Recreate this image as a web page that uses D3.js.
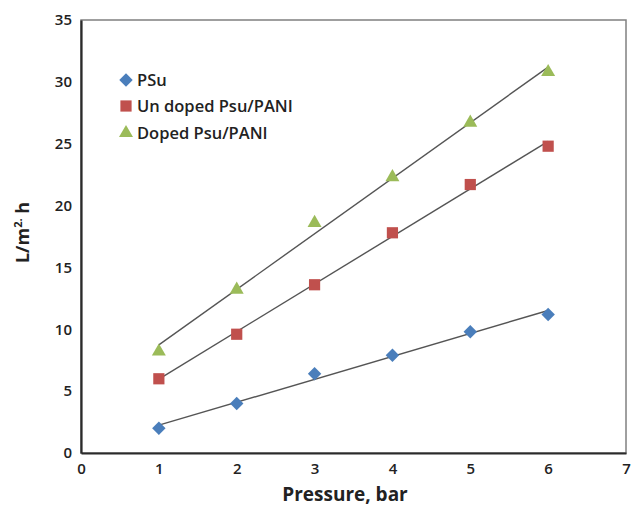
<!DOCTYPE html>
<html>
<head>
<meta charset="utf-8">
<script src="https://cdn.jsdelivr.net/npm/d3@7"></script>
<style>
  html, body { margin: 0; padding: 0; background: #fff; }
  svg { display: block; font-family: "Open Sans", "DejaVu Sans", sans-serif; }
</style>
</head>
<body>
<svg id="chart" width="631" height="510"></svg>
<script>
// ---- data ----
const pressures = [1, 2, 3, 4, 5, 6];
const psu = [2.0, 4.0, 6.4, 7.9, 9.8, 11.2];
const undoped = [6.0, 9.6, 13.6, 17.8, 21.7, 24.8];
const doped = [8.2, 13.2, 18.6, 22.3, 26.7, 30.8];
const seriesNames = ["PSu", "Un doped Psu/PANI", "Doped Psu/PANI"];
const xTicks = [0, 1, 2, 3, 4, 5, 6, 7];
const yTicks = [0, 5, 10, 15, 20, 25, 30, 35];
const xTitle = "Pressure, bar";

const series = [
  { name: seriesNames[0], values: psu, color: "#4a7ebb", shape: "diamond" },
  { name: seriesNames[1], values: undoped, color: "#c0504d", shape: "square" },
  { name: seriesNames[2], values: doped, color: "#9bbb59", shape: "triangle" }
];

const svg = d3.select("#chart");
const x = d3.scaleLinear().domain([0, 7]).range([81, 626]);
const y = d3.scaleLinear().domain([0, 35]).range([453, 20]);

// plot border (gray top/right)
svg.append("rect")
  .attr("x", x(0)).attr("y", y(35))
  .attr("width", x(7) - x(0)).attr("height", y(0) - y(35))
  .attr("fill", "none").attr("stroke", "#808080").attr("stroke-width", 1.5);

// axes
const xAxis = d3.axisBottom(x).tickValues(xTicks).tickSize(0).tickPadding(10).tickFormat(d3.format("d"));
const yAxis = d3.axisLeft(y).tickValues(yTicks).tickSize(0).tickPadding(9).tickFormat(d3.format("d"));

const gx = svg.append("g").attr("transform", `translate(0,${y(0)})`).call(xAxis);
const gy = svg.append("g").attr("transform", `translate(${x(0)},0)`).call(yAxis);
[gx, gy].forEach(g => {
  g.select(".domain").attr("stroke", "#2b2b2b").attr("stroke-width", 2.2);
  g.selectAll("text").attr("font-size", 15).attr("font-weight", 600).attr("fill", "#222")
    .attr("font-family", "'Open Sans', sans-serif");
});

// axis titles
svg.append("text")
  .attr("x", 345).attr("y", 501)
  .attr("text-anchor", "middle").attr("font-size", 19).attr("font-weight", 700).attr("fill", "#222")
  .text(xTitle);

const yt = svg.append("text")
  .attr("transform", `translate(29,${(y(0) + y(35)) / 2 - 4}) rotate(-90)`)
  .attr("text-anchor", "middle").attr("font-size", 18).attr("font-weight", 700).attr("fill", "#222");
yt.append("tspan").text("L/m");
yt.append("tspan").attr("font-size", 11).attr("dy", -7).text("2.");
yt.append("tspan").attr("dy", 7).text(" h");

// linear trend lines (least squares fit of each series)
function fit(xs, ys) {
  const mx = d3.mean(xs), my = d3.mean(ys);
  const sxy = d3.sum(xs, (v, i) => (v - mx) * (ys[i] - my));
  const sxx = d3.sum(xs, v => (v - mx) * (v - mx));
  const b = sxy / sxx;
  return { b, a: my - b * mx };
}
const line = d3.line().x(d => x(d[0])).y(d => y(d[1]));
series.forEach(s => {
  const f = fit(pressures, s.values);
  const x0 = d3.min(pressures), x1 = d3.max(pressures);
  svg.append("path")
    .attr("d", line([[x0, f.a + f.b * x0], [x1, f.a + f.b * x1]]))
    .attr("fill", "none").attr("stroke", "#555").attr("stroke-width", 1.4);
});

// markers
const symbolFor = shape => {
  if (shape === "diamond") return d3.symbol().type(d3.symbolDiamond2).size(115)();
  if (shape === "square") return d3.symbol().type(d3.symbolSquare2).size(160)();
  return d3.symbol().type(d3.symbolTriangle2).size(140)();
};
series.forEach(s => {
  svg.append("g").selectAll("path")
    .data(pressures.map((p, i) => [p, s.values[i]]))
    .join("path")
    .attr("d", symbolFor(s.shape))
    .attr("transform", d => `translate(${x(d[0])},${y(d[1])})`)
    .attr("fill", s.color).attr("stroke", "none");
});

// legend
const legendY = [80, 106, 133];
series.forEach((s, i) => {
  const g = svg.append("g").attr("transform", `translate(126,${legendY[i]})`);
  g.append("path").attr("d", symbolFor(s.shape)).attr("fill", s.color);
  g.append("text").attr("x", 11).attr("y", 6)
    .attr("font-size", 16.5).attr("font-weight", 600).attr("fill", "#222")
    .text(s.name);
});
</script>
</body>
</html>
